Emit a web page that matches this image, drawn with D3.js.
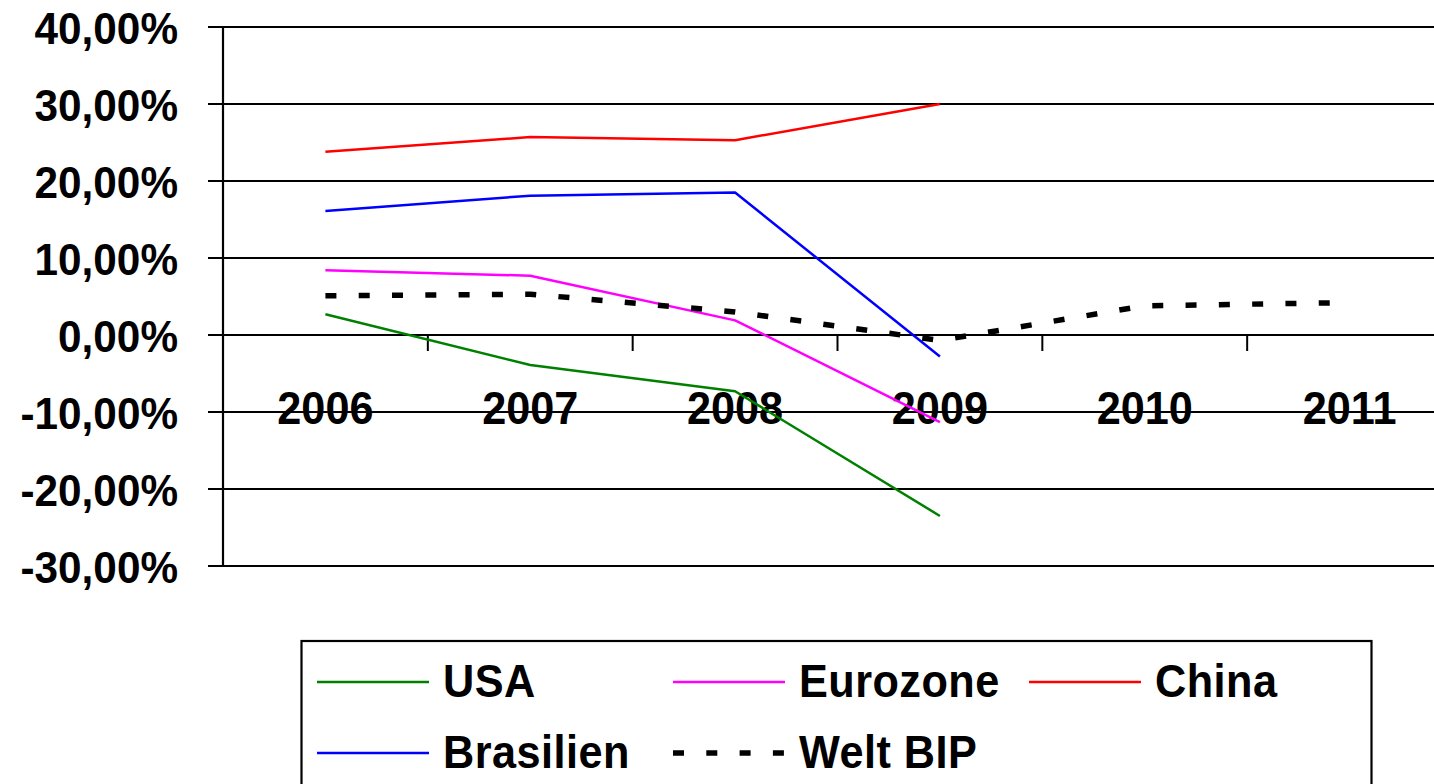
<!DOCTYPE html>
<html>
<head>
<meta charset="utf-8">
<script src="https://cdn.jsdelivr.net/npm/d3@7"></script>
<style>
  html, body { margin: 0; padding: 0; background: #fff; }
  svg { display: block; }
  text { font-family: "Liberation Sans", Arial, sans-serif; font-weight: bold; fill: #000; }
</style>
</head>
<body>
<svg id="chart" width="1434" height="784"></svg>
<script>
// Jahre und Wachstumsraten (in %)
const years = ["2006", "2007", "2008", "2009", "2010", "2011"];
const usa = [2.7, -3.9, -7.3, -23.5];
const eurozone = [8.4, 7.7, 1.9, -11.3];
const china = [23.8, 25.7, 25.3, 30.0];
const brasilien = [16.1, 18.1, 18.5, -2.8];
const weltBip = [5.1, 5.3, 3.0, -0.7, 3.8, 4.2];
const yTicks = [40, 30, 20, 10, 0, -10, -20, -30];

const series = [
  { name: "USA", values: usa, color: "#008000", dashed: false },
  { name: "Eurozone", values: eurozone, color: "#ff00ff", dashed: false },
  { name: "China", values: china, color: "#ff0000", dashed: false },
  { name: "Brasilien", values: brasilien, color: "#0000ff", dashed: false },
  { name: "Welt BIP", values: weltBip, color: "#000000", dashed: true }
];

const svg = d3.select("#chart");
const plot = { left: 223, right: 1452, top: 27, bottom: 566 };
const squeeze = 0.94; // narrow bold lettering

const x = d3.scaleBand().domain(years).range([plot.left, plot.right]).paddingInner(0).paddingOuter(0);
const y = d3.scaleLinear().domain([-30, 40]).range([plot.bottom, plot.top]);

const de = d3.formatLocale({ decimal: ",", thousands: ".", grouping: [3], currency: ["", " €"], minus: "-" });
const fmt = v => de.format(".2f")(v) + "%";

// Horizontal gridlines incl. left tick marks
svg.append("g").selectAll("line").data(yTicks).join("line")
  .attr("x1", plot.left - 15).attr("x2", plot.right)
  .attr("y1", d => y(d)).attr("y2", d => y(d))
  .attr("stroke", "#000").attr("stroke-width", 2.2);

// Y axis line
svg.append("line")
  .attr("x1", plot.left).attr("x2", plot.left)
  .attr("y1", plot.top).attr("y2", plot.bottom)
  .attr("stroke", "#000").attr("stroke-width", 2.2);

// Y tick labels
svg.append("g").selectAll("text").data(yTicks).join("text")
  .attr("transform", d => `translate(178,${y(d) + 1}) scale(${squeeze},1)`)
  .attr("text-anchor", "end")
  .attr("dominant-baseline", "central")
  .style("font-size", "45px")
  .text(fmt);

// X tick marks at band boundaries on the zero line
const boundaries = years.slice(1).map(d => x(d));
svg.append("g").selectAll("line").data(boundaries).join("line")
  .attr("x1", d => d).attr("x2", d => d)
  .attr("y1", y(0)).attr("y2", y(0) + 16)
  .attr("stroke", "#000").attr("stroke-width", 2);

// X category labels
svg.append("g").selectAll("text").data(years).join("text")
  .attr("transform", d => `translate(${x(d) + x.bandwidth() / 2},424) scale(${squeeze},1)`)
  .attr("text-anchor", "middle")
  .style("font-size", "46px")
  .text(d => d);

// Series lines
const cx = i => x(years[i]) + x.bandwidth() / 2;
const line = d3.line().x((d, i) => cx(i)).y(d => y(d));
const dashPattern = "11,22.3";

series.forEach(s => {
  svg.append("path")
    .datum(s.values)
    .attr("d", line)
    .attr("fill", "none")
    .attr("stroke", s.color)
    .attr("stroke-width", s.dashed ? 5.5 : 2.5)
    .attr("stroke-dasharray", s.dashed ? dashPattern : null)
    .attr("stroke-linejoin", "round");
});

// Legend
const legend = svg.append("g");
legend.append("rect")
  .attr("x", 301.5).attr("y", 641).attr("width", 1070).attr("height", 170)
  .attr("fill", "#fff").attr("stroke", "#000").attr("stroke-width", 2.2);

const slots = [
  { lx: 317, row: 0 }, { lx: 673, row: 0 }, { lx: 1029, row: 0 },
  { lx: 317, row: 1 }, { lx: 673, row: 1 }
];
const rowLineY = [682, 753];
const rowTextY = [697, 768];

series.forEach((s, i) => {
  const sl = slots[i];
  legend.append("line")
    .attr("x1", sl.lx).attr("x2", sl.lx + 112)
    .attr("y1", rowLineY[sl.row]).attr("y2", rowLineY[sl.row])
    .attr("stroke", s.color)
    .attr("stroke-width", s.dashed ? 5.5 : 2.5)
    .attr("stroke-dasharray", s.dashed ? dashPattern : null);
  legend.append("text")
    .attr("transform", `translate(${sl.lx + 126},${rowTextY[sl.row]}) scale(${squeeze},1)`)
    .style("font-size", "46px")
    .style("letter-spacing", "0.5px")
    .text(s.name);
});
</script>
</body>
</html>
